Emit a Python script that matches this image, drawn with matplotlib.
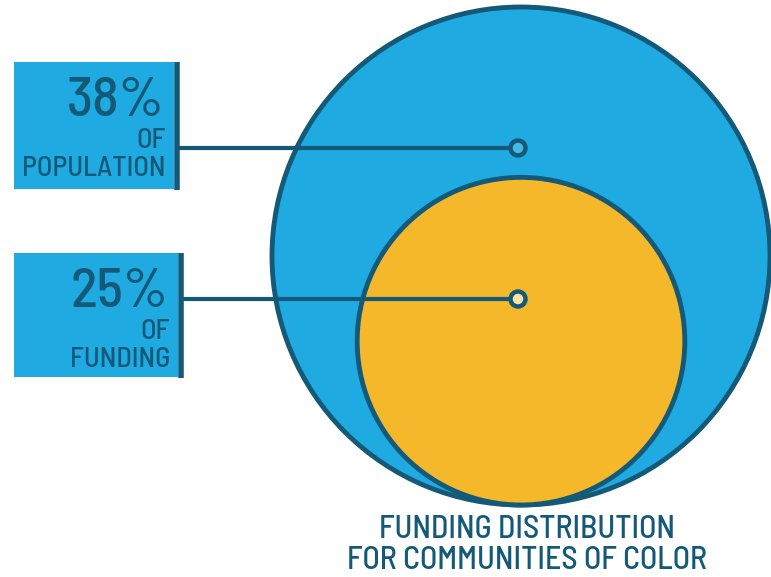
import matplotlib
matplotlib.use('Agg')
import matplotlib.pyplot as plt
from matplotlib.patches import Circle, Rectangle

# data
labels = ['POPULATION', 'FUNDING']
percents = [38, 25]
title_lines = ['FUNDING DISTRIBUTION', 'FOR COMMUNITIES OF COLOR']

blue = '#1fabe2'
dark = '#145a78'
yellow = '#f5b82b'

fig = plt.figure(figsize=(7.71, 5.77), dpi=100)
ax = fig.add_axes([0, 0, 1, 1])
ax.set_xlim(0, 771)
ax.set_ylim(577, 0)
ax.set_aspect('equal')
ax.axis('off')

# circles: radius proportional to percent, tangent at bottom
cx = 521
bottom = 505
scale = 249 / percents[0]
fills = [blue, yellow]
marker_fill = ['#45b8e6', '#fbe3a8']
for p, col in zip(percents, fills):
    r = p * scale
    cy = bottom - r
    ax.add_patch(Circle((cx, cy), r, facecolor=col, edgecolor=dark, lw=3.5, zorder=2))

# label boxes
box_y = [62, 253]
box_h = [127, 124]
box_w = [160, 164]
line_y = [148, 299]
font = dict(family=['Barlow Semi Condensed', 'DejaVu Sans'], weight='medium', color=dark)
for i, (lab, p) in enumerate(zip(labels, percents)):
    x0 = 14
    ax.add_patch(Rectangle((x0, box_y[i]), box_w[i], box_h[i], facecolor=blue, edgecolor='none', zorder=1))
    xr = x0 + box_w[i]
    ax.plot([xr + 2.5, xr + 2.5], [box_y[i], box_y[i] + box_h[i] + 1], color=dark, lw=4, solid_capstyle='butt', zorder=3)
    ax.plot([xr + 4, cx - 8], [line_y[i], line_y[i]], color=dark, lw=3, zorder=4)
    ax.add_patch(Circle((cx - 3, line_y[i]), 7.5, facecolor=marker_fill[i], edgecolor=dark, lw=3.2, zorder=5))
    tx = xr - 10
    ax.text(tx, box_y[i] + 54, f'{p}%', ha='right', va='baseline', fontsize=40, **font, zorder=6)
    ax.text(tx + 2, box_y[i] + 86, 'OF', ha='right', va='baseline', fontsize=20.5, **font, zorder=6)
    ax.text(tx + 2, box_y[i] + 114, lab, ha='right', va='baseline', fontsize=20.5, **font, zorder=6)

# title
ax.text(527, 538, title_lines[0], ha='center', va='baseline', fontsize=23, **font)
ax.text(527, 569, title_lines[1], ha='center', va='baseline', fontsize=23, **font)

fig.savefig('out.png', dpi=100)
